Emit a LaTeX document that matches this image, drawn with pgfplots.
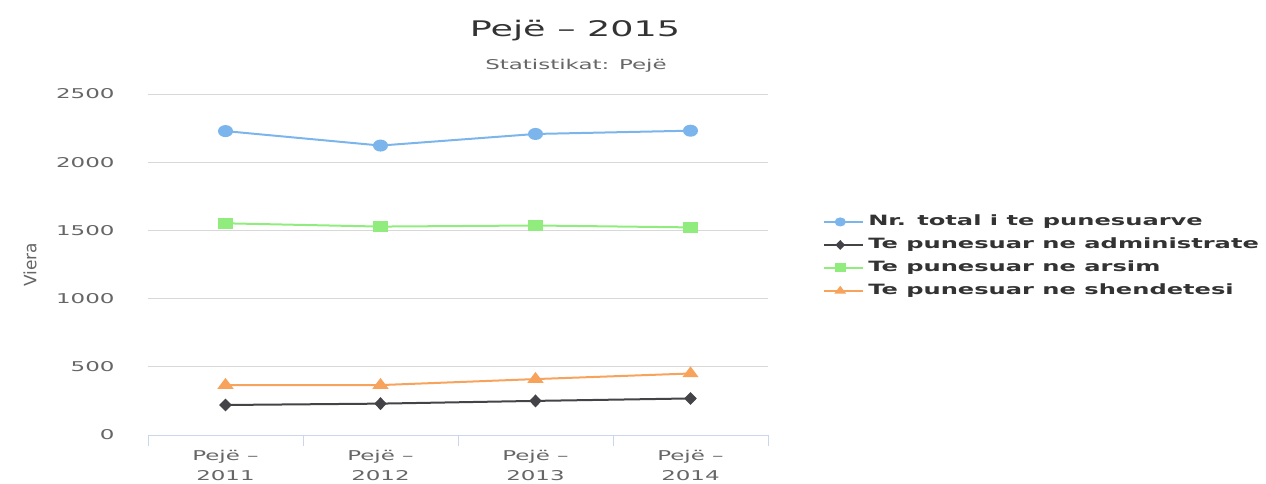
\documentclass[border=0pt]{standalone}
\usepackage{fontspec}
\setmainfont[FakeStretch=1.7]{DejaVu Sans}
\newfontfamily\plainfont{DejaVu Sans}
\usepackage{pgfplots}
\pgfplotsset{compat=1.18}

\definecolor{hcblue}{HTML}{7CB5EC}
\definecolor{hcblack}{HTML}{434348}
\definecolor{hcgreen}{HTML}{90ED7D}
\definecolor{hcorange}{HTML}{F7A35C}
\definecolor{gridgray}{HTML}{D8D8D8}
\definecolor{axisline}{HTML}{CCD6EB}
\definecolor{titlegray}{HTML}{333333}
\definecolor{labgray}{HTML}{666666}

\begin{document}
\begin{tikzpicture}[x=1pt,y=1pt]
\path[use as bounding box] (0,0) rectangle (1266,483);

% titles and y label
\node[text=titlegray, font=\fontsize{21.5}{25}\selectfont] at (575,452) {Pejë – 2015};
\node[text=labgray, font=\fontsize{13.5}{16}\selectfont] at (576,417) {Statistikat: Pejë};
\node[text=labgray, rotate=90, font=\plainfont\fontsize{17}{20}\selectfont] at (30,218) {Viera};

\begin{axis}[
  at={(148pt,48pt)}, anchor=south west,
  scale only axis, width=620pt, height=341pt,
  xmin=-0.5, xmax=3.5, ymin=0, ymax=2500,
  axis x line*=bottom, axis y line*=left,
  x axis line style={draw=axisline, line width=1pt, -},
  y axis line style={draw=none},
  xtick={0,1,2,3},
  xticklabels={{Pejë –\\2011},{Pejë –\\2012},{Pejë –\\2013},{Pejë –\\2014}},
  xticklabel style={align=center, text=labgray, yshift=-12pt,
    font=\fontsize{13.5}{20}\selectfont},
  major tick length=0pt,
  extra x ticks={-0.5,0.5,1.5,2.5,3.5},
  extra x tick labels={},
  extra x tick style={major tick length=11pt, tick align=outside,
    xtick style={draw=axisline, line width=1pt}},
  ytick={0,500,1000,1500,2000,2500},
  ymajorgrids,
  grid style={draw=gridgray, line width=1pt},
  ytick style={draw=none},
  yticklabel style={text=labgray, font=\fontsize{13.5}{16}\selectfont, xshift=-30pt},
  /pgf/number format/assume math mode=true,
  /pgf/number format/1000 sep={},
  legend style={at={(rel axis cs:1.084,0.665)}, anchor=north west,
    draw=none, fill=none, text=titlegray,
    font=\bfseries\fontsize{14.2}{16}\selectfont,
    nodes={text height=11pt, text depth=4pt, inner sep=4pt}},
  legend cell align=left,
  legend image code/.code={
    \path (0pt,0pt) -- (39pt,0pt);
    \draw[mark repeat=2, mark phase=2, line width=2pt, mark size=3.5pt]
      plot coordinates {(0pt,0pt) (16pt,0pt) (32pt,0pt)};},
]

\addplot[color=hcblue, line width=2pt, mark=*, mark size=5pt, mark options={xscale=1.3}]
coordinates {(0,2228) (1,2122) (2,2207) (3,2231)};
\addlegendentry{Nr. total i te punesuarve}

\addplot[color=hcblack, line width=2pt, mark=diamond*, mark size=5pt, mark options={xscale=1.3}]
coordinates {(0,220) (1,230) (2,250) (3,268)};
\addlegendentry{Te punesuar ne administrate}

\addplot[color=hcgreen, line width=2pt, mark=square*, mark size=4.5pt, mark options={xscale=1.35}]
coordinates {(0,1552) (1,1528) (2,1536) (3,1522)};
\addlegendentry{Te punesuar ne arsim}

\addplot[color=hcorange, line width=2pt, mark=triangle*, mark size=5.5pt, mark options={xscale=1.3}]
coordinates {(0,366) (1,366) (2,410) (3,451)};
\addlegendentry{Te punesuar ne shendetesi}

\end{axis}
\end{tikzpicture}
\end{document}
